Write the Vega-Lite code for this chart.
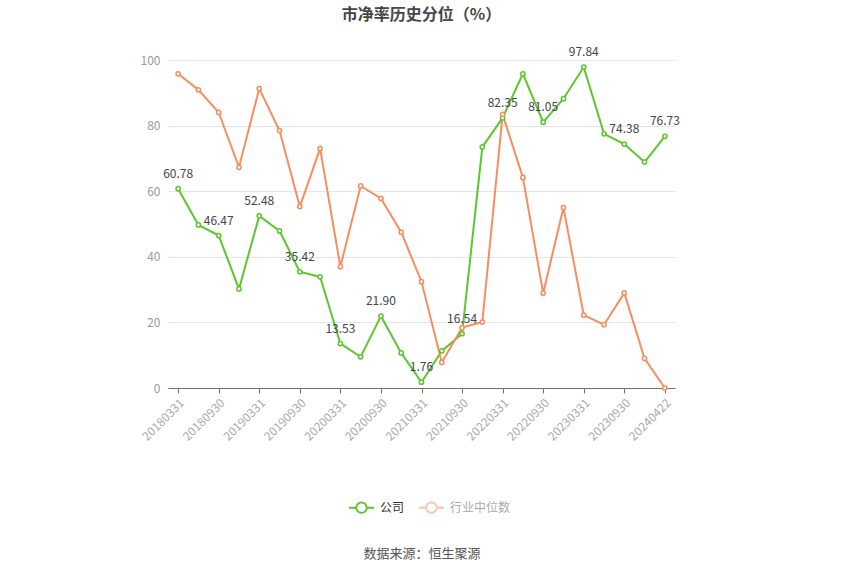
{
  "$schema": "https://vega.github.io/schema/vega-lite/v6.json",
  "autosize": {"type": "none"},
  "width": 507,
  "height": 328,
  "padding": {"left": 168, "top": 60, "right": 175, "bottom": 187},
  "background": "#ffffff",
  "title": {
    "text": "市净率历史分位（%）",
    "anchor": "middle",
    "frame": "group",
    "offset": 23,
    "font": "Noto Sans CJK SC",
    "fontSize": 16,
    "fontWeight": "bold",
    "color": "#464646"
  },
  "config": {
    "view": {"stroke": null},
    "font": "Noto Sans CJK SC"
  },
  "data": {
    "values": [
      {"date": "20180331", "series": "公司", "value": 60.78},
      {"date": "20180630", "series": "公司", "value": 49.7},
      {"date": "20180930", "series": "公司", "value": 46.47},
      {"date": "20181231", "series": "公司", "value": 30.2},
      {"date": "20190331", "series": "公司", "value": 52.48},
      {"date": "20190630", "series": "公司", "value": 47.9},
      {"date": "20190930", "series": "公司", "value": 35.42},
      {"date": "20191231", "series": "公司", "value": 33.9},
      {"date": "20200331", "series": "公司", "value": 13.53},
      {"date": "20200630", "series": "公司", "value": 9.5},
      {"date": "20200930", "series": "公司", "value": 21.90},
      {"date": "20201231", "series": "公司", "value": 10.7},
      {"date": "20210331", "series": "公司", "value": 1.76},
      {"date": "20210630", "series": "公司", "value": 11.3},
      {"date": "20210930", "series": "公司", "value": 16.54},
      {"date": "20211231", "series": "公司", "value": 73.5},
      {"date": "20220331", "series": "公司", "value": 82.35},
      {"date": "20220630", "series": "公司", "value": 95.8},
      {"date": "20220930", "series": "公司", "value": 81.05},
      {"date": "20221231", "series": "公司", "value": 88.2},
      {"date": "20230331", "series": "公司", "value": 97.84},
      {"date": "20230630", "series": "公司", "value": 77.5},
      {"date": "20230930", "series": "公司", "value": 74.38},
      {"date": "20231231", "series": "公司", "value": 68.9},
      {"date": "20240422", "series": "公司", "value": 76.73},
      {"date": "20180331", "series": "行业中位数", "value": 95.8},
      {"date": "20180630", "series": "行业中位数", "value": 90.9},
      {"date": "20180930", "series": "行业中位数", "value": 84.0},
      {"date": "20181231", "series": "行业中位数", "value": 67.3},
      {"date": "20190331", "series": "行业中位数", "value": 91.3},
      {"date": "20190630", "series": "行业中位数", "value": 78.5},
      {"date": "20190930", "series": "行业中位数", "value": 55.3},
      {"date": "20191231", "series": "行业中位数", "value": 73.0},
      {"date": "20200331", "series": "行业中位数", "value": 37.0},
      {"date": "20200630", "series": "行业中位数", "value": 61.6},
      {"date": "20200930", "series": "行业中位数", "value": 57.8},
      {"date": "20201231", "series": "行业中位数", "value": 47.5},
      {"date": "20210331", "series": "行业中位数", "value": 32.4},
      {"date": "20210630", "series": "行业中位数", "value": 7.8},
      {"date": "20210930", "series": "行业中位数", "value": 18.4},
      {"date": "20211231", "series": "行业中位数", "value": 20.1},
      {"date": "20220331", "series": "行业中位数", "value": 83.4},
      {"date": "20220630", "series": "行业中位数", "value": 64.2},
      {"date": "20220930", "series": "行业中位数", "value": 28.9},
      {"date": "20221231", "series": "行业中位数", "value": 55.0},
      {"date": "20230331", "series": "行业中位数", "value": 22.2},
      {"date": "20230630", "series": "行业中位数", "value": 19.3},
      {"date": "20230930", "series": "行业中位数", "value": 29.0},
      {"date": "20231231", "series": "行业中位数", "value": 9.0},
      {"date": "20240422", "series": "行业中位数", "value": 0.0}
    ]
  },
  "encoding": {
    "x": {
      "field": "date",
      "type": "ordinal",
      "sort": null,
      "scale": {"type": "point", "padding": 0.5},
      "axis": {
        "values": ["20180331", "20180930", "20190331", "20190930", "20200331", "20200930", "20210331", "20210930", "20220331", "20220930", "20230331", "20230930", "20240422"],
        "labelAngle": -45,
        "labelAlign": "right",
        "labelBaseline": "top",
        "labelColor": "#aaaaaa",
        "labelFontSize": 12,
        "labelPadding": 4,
        "domainColor": "#6e7079",
        "tickColor": "#6e7079",
        "tickSize": 5,
        "grid": false,
        "title": "数据来源：恒生聚源",
        "titleY": 165,
        "titleBaseline": "middle",
        "titleColor": "#555555",
        "titleFontSize": 13,
        "titleFontWeight": "normal"
      }
    },
    "y": {
      "field": "value",
      "type": "quantitative",
      "scale": {"domain": [0, 100], "nice": false},
      "axis": {
        "values": [0, 20, 40, 60, 80, 100],
        "title": null,
        "domain": false,
        "ticks": false,
        "labelColor": "#999999",
        "labelFontSize": 12,
        "labelPadding": 8,
        "gridColor": "#e0e6f1",
        "gridWidth": 1
      }
    },
    "color": {
      "field": "series",
      "type": "nominal",
      "scale": {"domain": ["公司", "行业中位数"], "range": ["#5cc72c", "#f88d5e"]},
      "legend": {
        "title": null,
        "orient": "none",
        "direction": "horizontal",
        "legendX": 180,
        "legendY": 434,
        "symbolType": "M-1,0L-0.42,0M0.42,0L1,0M0.42,0A0.42,0.42 0 1,1 -0.42,0A0.42,0.42 0 1,1 0.42,0",
        "symbolSize": 625,
        "symbolStrokeWidth": 2,
        "labelFontSize": 12,
        "columnPadding": 10,
        "labelOffset": 5,
        "encode": {
          "symbols": {
            "update": {
              "fill": {"value": "#ffffff"},
              "opacity": {"signal": "datum.value == '行业中位数' ? 0.5 : 1"}
            }
          },
          "labels": {
            "update": {
              "fill": {"signal": "datum.value == '行业中位数' ? '#aaaaaa' : '#333333'"}
            }
          }
        }
      }
    }
  },
  "layer": [
    {
      "mark": {"type": "line", "strokeWidth": 2}
    },
    {
      "mark": {"type": "point", "shape": "circle", "filled": false, "fill": "#ffffff", "fillOpacity": 1, "size": 18, "strokeWidth": 1.5, "opacity": 1}
    },
    {
      "transform": [
        {"filter": {"field": "series", "equal": "公司"}},
        {"filter": {"field": "date", "oneOf": ["20180331", "20180930", "20190331", "20190930", "20200331", "20200930", "20210331", "20210930", "20220331", "20220930", "20230331", "20230930", "20240422"]}}
      ],
      "mark": {"type": "text", "dy": -8, "baseline": "bottom", "fontSize": 12, "color": "#444444"},
      "encoding": {
        "text": {"field": "value", "type": "quantitative", "format": ".2f"},
        "color": {"value": "#444444"}
      }
    }
  ]
}
